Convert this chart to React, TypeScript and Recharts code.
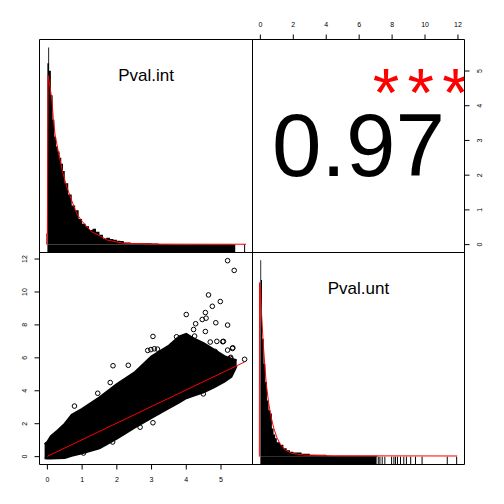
import { ComposedChart, Area, Line, Scatter, XAxis, YAxis, ReferenceArea, ReferenceLine, Customized } from 'recharts';

const FONT = '"Liberation Sans", Arial, Helvetica, sans-serif';
const SIZE = 504;
// panel edges in px (half pixels keep the 1px box lines sharp)
const P0 = 39.5;
const P1 = 252.5;
const P2 = 464.5;

// data ranges of the two variables
const intRange = [0, 5.68];
const untRange = [0, 11.92];

// Pval.int histogram: bin edges and densities
const intEdges = [0, 0.025, 0.05, 0.1, 0.15, 0.2, 0.25, 0.3, 0.35, 0.4, 0.45, 0.5, 0.6, 0.7, 0.8, 0.9, 1.0, 1.1, 1.2, 1.3, 1.4, 1.5, 1.6, 1.7, 1.8, 1.9, 2.0, 2.1, 2.2, 2.3, 2.4, 2.5, 2.6, 2.8, 3.0, 3.2, 3.5, 5.4, 5.6, 5.7];
const intDensity = [1.48, 1.61, 1.42, 1.22, 1.02, 0.88, 0.8, 0.76, 0.71, 0.66, 0.6, 0.5, 0.41, 0.32, 0.28, 0.21, 0.17, 0.15, 0.12, 0.13, 0.105, 0.08, 0.05, 0.055, 0.045, 0.04, 0.032, 0.03, 0.018, 0.017, 0.014, 0.012, 0.012, 0.011, 0.01, 0.004, 0.002, 0, 0.002];
const intDensX = [-0.02, -0.02, 0.0, 0.02, 0.08, 0.13, 0.17, 0.22, 0.32, 0.45, 0.56, 0.7, 0.85, 1.0, 1.27, 1.56, 1.71, 2.19, 3.06, 5.72];
const intDensY = [0, 0.09, 0.09, 1.38, 1.28, 1.18, 1.03, 0.9, 0.75, 0.58, 0.47, 0.36, 0.25, 0.19, 0.105, 0.065, 0.038, 0.011, 0.004, 0.003];
const intRugSolid = [0, 5.41];
const intRugTail = [5.68];

// Pval.unt histogram
const untEdges = [0, 0.05, 0.1, 0.2, 0.3, 0.4, 0.5, 0.6, 0.7, 0.8, 0.9, 1.0, 1.2, 1.4, 1.6, 1.8, 2.0, 2.5, 3.0, 4.0, 7.1];
const untDensity = [3.0, 2.7, 1.8, 1.42, 1.14, 0.86, 0.71, 0.66, 0.43, 0.34, 0.28, 0.22, 0.18, 0.13, 0.096, 0.075, 0.065, 0.045, 0.03, 0.015];
const untDensX = [-0.06, -0.05, 0.02, 0.07, 0.17, 0.27, 0.37, 0.51, 0.65, 0.81, 1.01, 1.21, 1.52, 1.92, 2.63, 4.45, 11.95];
const untDensY = [0, 2.66, 2.5, 2.2, 1.75, 1.39, 1.09, 0.81, 0.61, 0.44, 0.29, 0.19, 0.1, 0.05, 0.024, 0.013, 0.01];
const untRugSolid = [0, 7.06];
const untRugTail = [7.16, 7.26, 7.4, 7.56, 7.97, 8.11, 8.21, 8.33, 8.51, 8.71, 8.87, 9.13, 9.42, 9.82, 11.35, 11.92];

// scatter: dense cloud outline (x, lower, upper) and the stray points
const cloudX = [-0.08, 0.0, 0.1, 0.3, 0.5, 0.7, 1.0, 1.5, 2.0, 2.5, 3.0, 3.5, 3.8, 4.0, 4.2, 4.5, 4.8, 5.1, 5.3, 5.45];
const cloudLow = [-0.1, -0.12, -0.12, -0.1, -0.08, 0.05, 0.2, 0.5, 1.1, 1.75, 2.35, 2.95, 3.3, 3.55, 3.7, 3.9, 4.2, 4.55, 4.85, 5.5];
const cloudHigh = [0.75, 0.9, 1.25, 1.6, 2.0, 2.55, 2.9, 3.6, 4.4, 5.1, 6.1, 6.75, 7.3, 7.45, 7.2, 6.9, 6.5, 6.1, 5.95, 5.85];
const strayX = [5.19, 5.38, 4.64, 4.98, 4.75, 4.55, 4.57, 4.0, 4.46, 4.85, 5.19, 4.27, 4.21, 4.55, 3.04, 3.72, 4.24, 4.69, 5.05, 5.33, 4.83, 5.28, 5.05, 5.68, 3.17, 2.89, 2.98, 3.08, 1.89, 2.33, 1.81, 1.45, 0.78, 3.04, 2.67, 4.49, 1.88, 1.04, 5.27, 5.19, 5.34, 4.88, 5.07];
const strayY = [11.9, 11.31, 9.82, 9.42, 9.13, 8.75, 8.41, 8.63, 8.33, 8.13, 7.99, 8.07, 7.72, 7.6, 7.3, 7.28, 7.32, 6.96, 6.98, 6.57, 6.39, 6.03, 5.9, 5.91, 6.53, 6.45, 6.5, 6.55, 5.52, 5.55, 4.5, 3.85, 3.07, 2.06, 1.79, 3.81, 0.89, 0.22, 5.97, 6.47, 6.61, 7.0, 7.0];
const smoothX = [0, 5.68];
const smoothY = [0.02, 5.75];

const corrText = '0.97';
const starsText = '***';
const varNames = ['Pval.int', 'Pval.unt'];
const intTicks = [0, 1, 2, 3, 4, 5];
const untTicks = [0, 2, 4, 6, 8, 10, 12];

const pad = (r: number[]) => {
  const d = (r[1] - r[0]) * 0.04;
  return [r[0] - d, r[1] + d];
};
const intDomain = pad(intRange);
const untDomain = pad(untRange);
const histDomain = (vals: number[]) => pad([0, Math.max(...vals)]);
const intHDomain = histDomain(intDensity);
const untHDomain = histDomain(untDensity);

const stepData = (edges: number[], vals: number[]) =>
  edges.map((x, i) => ({ x, y: vals[Math.min(i, vals.length - 1)] }));
const pts = (xs: number[], ys: number[]) => xs.map((x, i) => ({ x, y: ys[i] }));

const intHist = stepData(intEdges, intDensity);
const untHist = stepData(untEdges, untDensity);
const intDens = pts(intDensX, intDensY);
const untDens = pts(untDensX, untDensY);
const cloud = cloudX.map((x, i) => ({ x, band: [cloudLow[i], cloudHigh[i]] }));
const strays = pts(strayX, strayY);
const smooth = pts(smoothX, smoothY);

const abs: React.CSSProperties = { position: 'absolute', left: 0, top: 0 };

const tick = (rotate: boolean) => (props: any) => {
  const { x, y, payload } = props;
  return (
    <text
      x={x}
      y={y}
      fontSize={7}
      fontFamily={FONT}
      fill="#000"
      textAnchor="middle"
      transform={rotate ? `rotate(-90 ${x} ${y})` : undefined}
    >
      {payload.value}
    </text>
  );
};

const Box = ({ xd, yd }: { xd: number[]; yd: number[] }) => (
  <ReferenceArea x1={xd[0]} x2={xd[1]} y1={yd[0]} y2={yd[1]} fill="none" stroke="#000" strokeWidth={1} ifOverflow="visible" />
);

function HistPanel({ left, top, right, bottom, domain, hDomain, hist, dens, rugSolid, rugTail, name }: any) {
  return (
    <ComposedChart
      width={SIZE}
      height={SIZE}
      style={abs}
      margin={{ left, top, right: SIZE - right, bottom: SIZE - bottom }}
    >
      <XAxis type="number" dataKey="x" domain={domain} hide allowDataOverflow />
      <YAxis type="number" dataKey="y" domain={hDomain} hide allowDataOverflow />
      <Area data={hist} dataKey="y" type="stepAfter" baseValue={0} fill="#000" fillOpacity={1} stroke="none" isAnimationActive={false} />
      <ReferenceArea x1={rugSolid[0]} x2={rugSolid[1]} y1={hDomain[0]} y2={0} fill="#000" fillOpacity={1} stroke="none" />
      {rugTail.map((v: number) => (
        <ReferenceLine key={v} segment={[{ x: v, y: hDomain[0] }, { x: v, y: 0 }]} stroke="#000" strokeWidth={1} />
      ))}
      <Line data={dens} dataKey="y" type="linear" stroke="#ff0000" strokeWidth={1} dot={false} activeDot={false} isAnimationActive={false} />
      <Box xd={domain} yd={hDomain} />
      <Customized
        component={() => (
          <text x={(left + right) / 2} y={top + 41.5} textAnchor="middle" fontSize={17} fontFamily={FONT} fill="#000">
            {name}
          </text>
        )}
      />
    </ComposedChart>
  );
}

function ScatterPanel() {
  return (
    <ComposedChart width={SIZE} height={SIZE} style={abs} margin={{ left: P0 - 30, top: P1, right: SIZE - P1, bottom: SIZE - P2 - 30 }}>
      <XAxis
        type="number"
        dataKey="x"
        domain={intDomain}
        ticks={intTicks}
        allowDataOverflow
        height={30}
        axisLine={false}
        tickSize={5}
        tickMargin={12.2}
        tickLine={{ stroke: '#000' }}
        tick={tick(false)}
      />
      <YAxis
        type="number"
        dataKey="y"
        domain={untDomain}
        ticks={untTicks}
        allowDataOverflow
        width={30}
        axisLine={false}
        tickSize={5}
        tickMargin={7.5}
        tickLine={{ stroke: '#000' }}
        tick={tick(true)}
      />
      <Area data={cloud} dataKey="band" type="linear" fill="#000" fillOpacity={1} stroke="#000" strokeWidth={2} isAnimationActive={false} />
      <Scatter
        data={strays}
        dataKey="y"
        isAnimationActive={false}
        shape={(p: any) => <circle cx={p.cx} cy={p.cy} r={2.3} fill="none" stroke="#000" strokeWidth={1} />}
      />
      <Line data={smooth} dataKey="y" type="linear" stroke="#ff0000" strokeWidth={1} dot={false} activeDot={false} isAnimationActive={false} />
      <Box xd={intDomain} yd={untDomain} />
    </ComposedChart>
  );
}

// glyph centres of the three stars, px
const starX = [386, 420.7, 455.4];

function CorrPanel() {
  return (
    <ComposedChart width={SIZE} height={SIZE} style={abs} margin={{ left: P1, top: P0 - 30, right: SIZE - P2 - 30, bottom: SIZE - P1 }}>
      <XAxis
        type="number"
        dataKey="x"
        orientation="top"
        domain={untDomain}
        ticks={untTicks}
        allowDataOverflow
        height={30}
        axisLine={false}
        tickSize={5}
        tickMargin={7.2}
        tickLine={{ stroke: '#000' }}
        tick={tick(false)}
      />
      <YAxis
        type="number"
        dataKey="y"
        orientation="right"
        domain={intDomain}
        ticks={intTicks}
        allowDataOverflow
        width={30}
        axisLine={false}
        tickSize={5}
        tickMargin={12.2}
        tickLine={{ stroke: '#000' }}
        tick={tick(true)}
      />
      <Box xd={untDomain} yd={intDomain} />
      <Customized
        component={() => (
          <g>
            <defs>
              <clipPath id="corrClip">
                <rect x={P1} y={P0} width={P2 - P1} height={P1 - P0} />
              </clipPath>
            </defs>
            <text x={(P1 + P2) / 2} y={176} textAnchor="middle" fontSize={89} fontFamily={FONT} fill="#000">
              {corrText}
            </text>
            <text x={starX.join(' ')} y={116} textAnchor="middle" fontSize={68} fontFamily={FONT} fill="#ff0000" clipPath="url(#corrClip)">
              {starsText}
            </text>
          </g>
        )}
      />
    </ComposedChart>
  );
}

export default function App() {
  return (
    <div style={{ position: 'absolute', left: 0, top: 0, width: SIZE, height: SIZE, background: '#fff' }}>
      <HistPanel
        left={P0}
        top={P0}
        right={P1}
        bottom={P1}
        domain={intDomain}
        hDomain={intHDomain}
        hist={intHist}
        dens={intDens}
        rugSolid={intRugSolid}
        rugTail={intRugTail}
        name={varNames[0]}
      />
      <CorrPanel />
      <ScatterPanel />
      <HistPanel
        left={P1}
        top={P1}
        right={P2}
        bottom={P2}
        domain={untDomain}
        hDomain={untHDomain}
        hist={untHist}
        dens={untDens}
        rugSolid={untRugSolid}
        rugTail={untRugTail}
        name={varNames[1]}
      />
    </div>
  );
}
